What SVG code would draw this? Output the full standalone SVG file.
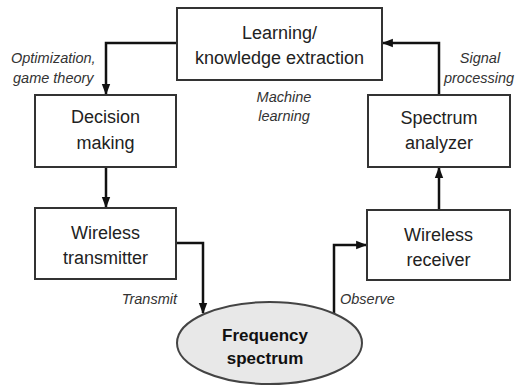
<svg xmlns="http://www.w3.org/2000/svg" width="516" height="385" viewBox="0 0 516 385">
  <defs>
    <marker id="arrow" viewBox="0 0 10 10" refX="9" refY="5" markerWidth="4.4" markerHeight="4.4" orient="auto" markerUnits="strokeWidth">
      <path d="M0,1.2 L10,5 L0,8.8 Z" fill="#111"/>
    </marker>
  </defs>
  <style>
    .box { fill: #fff; stroke: #333; stroke-width: 2; }
    .ell { fill: #e8e8e8; stroke: #444; stroke-width: 2; }
    .lbl { font-family: "Liberation Sans", Arial, sans-serif; font-size: 18px; fill: #222; text-anchor: middle; }
    .bold { font-weight: bold; font-size: 17px; fill: #111; }
    .note { font-family: "Liberation Sans", Arial, sans-serif; font-size: 14.5px; font-style: italic; fill: #333; }
    .edge { fill: none; stroke: #111; stroke-width: 2.5; marker-end: url(#arrow); }
  </style>
  <rect width="516" height="385" fill="#fff"/>

  <g id="connectors">
    <path class="edge" d="M177,43 H106 V94"/>
    <path class="edge" d="M106,167 V207"/>
    <path class="edge" d="M176,243 H203 V313"/>
    <path class="edge" d="M334,314 V245 H366"/>
    <path class="edge" d="M439,210 V168"/>
    <path class="edge" d="M439,95 V43 H383"/>
  </g>

  <g id="learning">
    <rect class="box" x="177" y="8" width="205" height="72"/>
    <text class="lbl" x="279.5" y="39">Learning/</text>
    <text class="lbl" x="279.5" y="64">knowledge extraction</text>
  </g>

  <g id="decision">
    <rect class="box" x="35" y="95" width="141" height="72"/>
    <text class="lbl" x="105.5" y="123">Decision</text>
    <text class="lbl" x="105.5" y="149">making</text>
  </g>

  <g id="analyzer">
    <rect class="box" x="368" y="95" width="142" height="72"/>
    <text class="lbl" x="439" y="124">Spectrum</text>
    <text class="lbl" x="439" y="149">analyzer</text>
  </g>

  <g id="transmitter">
    <rect class="box" x="35" y="208" width="141" height="71"/>
    <text class="lbl" x="105.5" y="239">Wireless</text>
    <text class="lbl" x="105.5" y="264">transmitter</text>
  </g>

  <g id="receiver">
    <rect class="box" x="367" y="210" width="143" height="70"/>
    <text class="lbl" x="438.5" y="241">Wireless</text>
    <text class="lbl" x="438.5" y="266">receiver</text>
  </g>

  <g id="spectrum">
    <ellipse class="ell" cx="269.5" cy="343" rx="92.5" ry="41"/>
    <text class="lbl bold" x="265" y="341">Frequency</text>
    <text class="lbl bold" x="265" y="364">spectrum</text>
  </g>

  <g id="labels">
    <text class="note" x="11" y="63">Optimization,</text>
    <text class="note" x="13" y="83">game theory</text>
    <text class="note" x="284" y="102" text-anchor="middle">Machine</text>
    <text class="note" x="284" y="121" text-anchor="middle">learning</text>
    <text class="note" x="480" y="63" text-anchor="middle">Signal</text>
    <text class="note" x="479" y="83" text-anchor="middle">processing</text>
    <text class="note" x="177" y="304" text-anchor="end">Transmit</text>
    <text class="note" x="340" y="304">Observe</text>
  </g>
</svg>
